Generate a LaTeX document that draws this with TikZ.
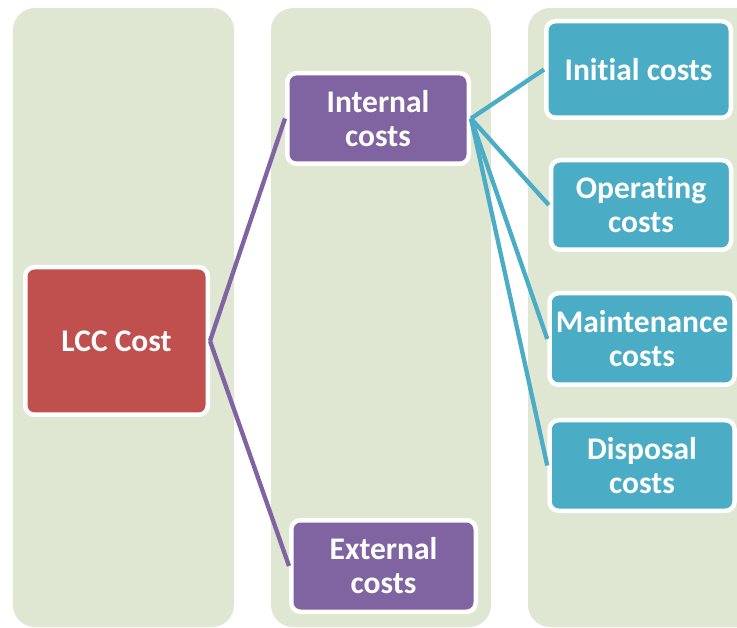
\documentclass[tikz,border=0pt]{standalone}
\usepackage{fontspec}
\setmainfont{Carlito}[RawFeature={-liga;-clig;-calt;-dlig}]
\definecolor{panelgreen}{HTML}{DFE7D2}
\definecolor{rootred}{HTML}{C0504D}
\definecolor{midpurple}{HTML}{8064A2}
\definecolor{leafteal}{HTML}{4BACC6}
\begin{document}
\begin{tikzpicture}[x=1pt,y=-1pt,
  panel/.style={fill=panelgreen,rounded corners=22pt},
  box/.style={draw=white,line width=4.5pt,rounded corners=9pt,inner sep=0pt,
    align=center,text=white,font=\fontsize{31.5}{34}\selectfont\bfseries},
  rootbox/.style={box,fill=rootred},
  midbox/.style={box,fill=midpurple},
  leafbox/.style={box,fill=leafteal},
  midlink/.style={draw=midpurple,line width=4.3pt},
  leaflink/.style={draw=leafteal,line width=4.3pt},
]
\useasboundingbox (0,0) rectangle (737,628);
\clip (0,0) rectangle (737,628);
% column panels
\fill[panel] (13,8) rectangle (234,627);
\fill[panel] (271,8) rectangle (491,627);
\fill[panel] (528,8) rectangle (770,627);
% nodes
\node[rootbox,minimum width=182.5pt,minimum height=147.5pt] (lcc) at (116.5,341) {LCC Cost};
\node[midbox,minimum width=181.5pt,minimum height=90.5pt] (int) at (378,118.5) {Internal\\costs};
\node[midbox,minimum width=184.5pt,minimum height=91.5pt] (ext) at (383.5,566) {External\\costs};
\node[leafbox,minimum width=184.5pt,minimum height=96.5pt] (ini) at (638.5,69.5) {Initial costs};
\node[leafbox,minimum width=180pt,minimum height=89.5pt] (ope) at (641,205) {Operating\\costs};
\node[leafbox,minimum width=185pt,minimum height=91.5pt] (mai) at (642,339) {Maintenance\\costs};
\node[leafbox,minimum width=185pt,minimum height=90.5pt] (dis) at (642,465.5) {Disposal\\costs};
% connectors
\draw[midlink] (lcc.east) -- (int.west);
\draw[midlink] (lcc.east) -- (ext.west);
\draw[leaflink] (int.east) -- (ini.west);
\draw[leaflink] (int.east) -- (ope.west);
\draw[leaflink] (int.east) -- (mai.west);
\draw[leaflink] (int.east) -- (dis.west);
\end{tikzpicture}
\end{document}
